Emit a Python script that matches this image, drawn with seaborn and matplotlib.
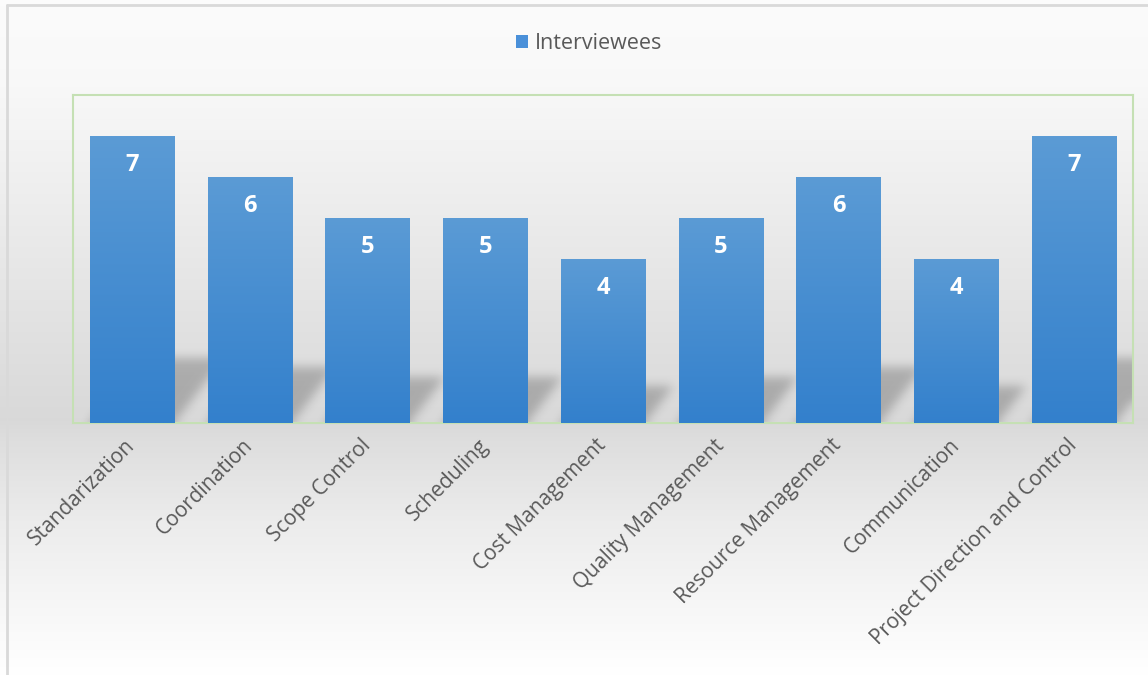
import numpy as np
import pandas as pd
import matplotlib
matplotlib.use("Agg")
import matplotlib.pyplot as plt
import seaborn as sns
from matplotlib.patches import Patch
from matplotlib.lines import Line2D
from matplotlib.colors import LinearSegmentedColormap

# ---- data ----
categories = ["Standarization", "Coordination", "Scope Control", "Scheduling",
              "Cost Management", "Quality Management", "Resource Management",
              "Communication", "Project Direction and Control"]
values = [7, 6, 5, 5, 4, 5, 6, 4, 7]
series_name = "Interviewees"

df = pd.DataFrame({"category": categories, "value": values})

sns.set_theme(style="white")
plt.rcParams['font.family'] = ['Open Sans', 'DejaVu Sans']

W, H = 1148, 675
fig = plt.figure(figsize=(W / 100, H / 100), dpi=100)

# ---- background gradient (figure) ----
bg = fig.add_axes([0, 0, 1, 1], zorder=-10)
rows = np.arange(H)
gray = np.interp(rows, [0, 80, 420, 440, 520, 620, 675],
                 [0.985, 0.975, 0.85, 0.87, 0.925, 0.975, 1.0])
img = np.repeat(gray[:, None], 4, axis=1)
bg.imshow(np.dstack([img, img, img]), aspect="auto", extent=[0, 1, 0, 1],
          interpolation="bilinear")
bg.set_axis_off()

# outer chart border (left and top)
fig.add_artist(Line2D([7 / W, 7 / W], [0, 1 - 5 / H], transform=fig.transFigure,
                      color="#d9d9d9", lw=2))
fig.add_artist(Line2D([7 / W, 1], [1 - 5 / H, 1 - 5 / H], transform=fig.transFigure,
                      color="#d9d9d9", lw=2))

# ---- plot area ----
left, right, bottom, top = 73 / W, 1133 / W, 1 - 423 / H, 1 - 95 / H
ax = fig.add_axes([left, bottom, right - left, top - bottom])
ax.patch.set_alpha(0)

bar_w = 0.715
sns.barplot(data=df, x="category", y="value", color="#4a90d9", width=bar_w,
            saturation=1, ax=ax, zorder=3)
ax.set_xlim(-0.5, len(categories) - 0.5)
ax.set_ylim(0, 8)

# gradient fill for each bar
cmap = LinearSegmentedColormap.from_list("barg", ["#3380cc", "#5b9bd5"])
grad = np.linspace(0, 1, 256)[:, None]
for p in ax.patches:
    x0, y0 = p.get_x(), p.get_y()
    w, h = p.get_width(), p.get_height()
    p.set_facecolor("none")
    p.set_edgecolor("none")
    im = ax.imshow(grad, cmap=cmap, aspect="auto", origin="lower",
                   extent=[x0, x0 + w, y0, y0 + h], zorder=3,
                   interpolation="bilinear")
    im.set_clip_path(p)

# soft perspective shadows derived from bar values (sheared to the upper right)
nx, ny = 1060, 328
xs = np.linspace(-0.5, len(categories) - 0.5, nx)
ys = np.linspace(0, 8, ny)
XX, YY = np.meshgrid(xs, ys)
mask = np.zeros_like(XX)
for p in ax.patches:
    x0, w, h = p.get_x(), p.get_width(), p.get_height()
    sh = 0.225 * h
    shift = 0.27
    inside = (YY >= 0) & (YY <= sh) & (XX >= x0 + shift * YY) & \
             (XX <= x0 + w + shift * YY)
    mask = np.maximum(mask, inside.astype(float))

def blur(a, sigma, axis):
    r = int(3 * sigma)
    k = np.exp(-0.5 * (np.arange(-r, r + 1) / sigma) ** 2)
    k /= k.sum()
    return np.apply_along_axis(lambda m: np.convolve(np.pad(m, r, mode="edge"), k, mode="valid"), axis, a)

mask = blur(mask, 5, 1)
mask = blur(mask, 5, 0)
shadow = np.zeros((ny, nx, 4))
shadow[..., 3] = 0.22 * mask
ax.imshow(shadow, origin="lower", aspect="auto",
          extent=[xs[0], xs[-1], 0, 8], zorder=2, interpolation="bilinear")
ax.set_xlim(-0.5, len(categories) - 0.5)
ax.set_ylim(0, 8)

# value labels
for i, v in enumerate(values):
    ax.annotate(str(v), xy=(i, v), xytext=(0, -21), textcoords="offset points",
                ha="center", va="center", color="white", fontsize=17,
                fontweight="bold", zorder=5)

# axes styling
for s in ax.spines.values():
    s.set_color("#c5e0b4")
    s.set_linewidth(1.5)
ax.set_yticks([])
ax.set_xlabel("")
ax.set_ylabel("")
ax.tick_params(axis="x", length=0, pad=14, labelsize=15, labelcolor="#595959")
plt.setp(ax.get_xticklabels(), rotation=45, ha="right", va="center",
         rotation_mode="anchor")

# legend
handle = Patch(facecolor="#4a90d9", edgecolor="none")
fig.legend([handle], [series_name], loc="center", bbox_to_anchor=(0.513, 0.936),
           frameon=False, fontsize=15.5, labelcolor="#595959",
           handlelength=0.55, handleheight=0.55, handletextpad=0.3)

fig.savefig("out.png", dpi=100)
